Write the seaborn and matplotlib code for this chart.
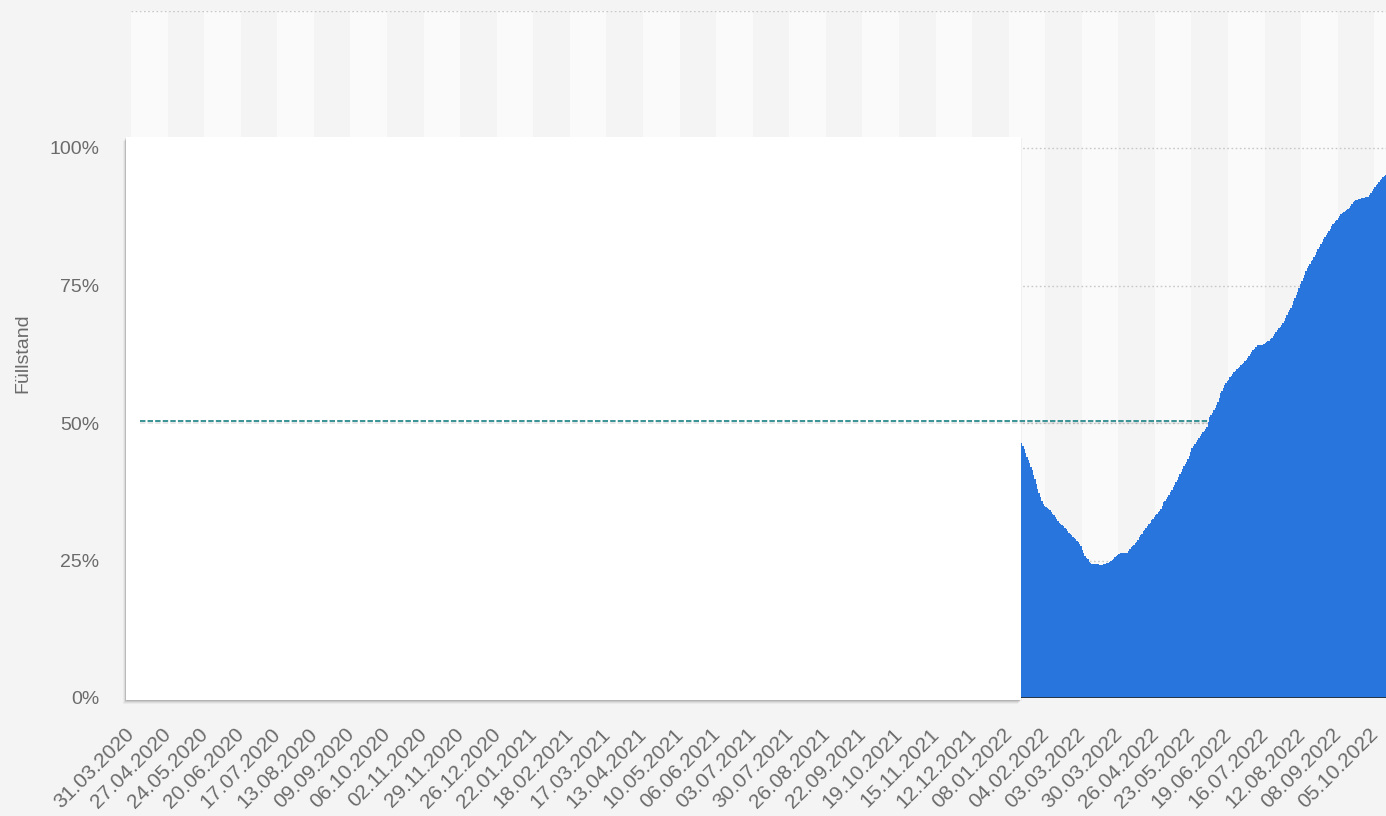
import numpy as np
import pandas as pd
import matplotlib
matplotlib.use("Agg")
import matplotlib.pyplot as plt
import matplotlib.patches as mpatches
import matplotlib.patheffects as pe
import seaborn as sns

# ---------------- data ----------------
start_date = "2020-03-31"
n_days = 927                      # daily categories shown on the axis
data_start_index = 657            # first visible daily value (17.01.2022)

fill_level = [
    46.3, 45.8, 45.2, 44.5, 43.9, 43.3, 42.8, 42.0, 41.4, 40.6,
    39.8, 38.9, 38.0, 37.2, 36.5, 35.8, 35.3, 35.0, 34.7, 34.5,
    34.3, 34.1, 33.8, 33.5, 33.2, 32.9, 32.5, 32.2, 31.9, 31.6,
    31.4, 31.2, 31.0, 30.8, 30.4, 30.0, 29.8, 29.6, 29.3, 29.1,
    28.9, 28.6, 28.3, 28.0, 27.6, 27.0, 26.3, 25.9, 25.5, 25.2,
    24.8, 24.5, 24.4, 24.4, 24.3, 24.3, 24.3, 24.3, 24.2, 24.2,
    24.2, 24.3, 24.4, 24.5, 24.6, 24.7, 24.9, 25.1, 25.3, 25.6,
    25.8, 26.0, 26.2, 26.3, 26.3, 26.3, 26.3, 26.3, 26.4, 26.8,
    27.1, 27.4, 27.6, 27.9, 28.1, 28.4, 28.8, 29.2, 29.6, 29.9,
    30.3, 30.6, 31.0, 31.3, 31.6, 31.9, 32.3, 32.6, 33.0, 33.3,
    33.5, 33.8, 34.0, 34.4, 35.0, 35.6, 35.9, 36.2, 36.6, 37.0,
    37.5, 37.9, 38.4, 38.8, 39.2, 39.7, 40.2, 40.7, 41.1, 41.6,
    42.1, 42.5, 43.0, 43.4, 44.0, 44.7, 45.4, 45.8, 46.2, 46.6,
    47.0, 47.3, 47.6, 48.0, 48.3, 48.6, 48.9, 49.3, 50.2, 51.1,
    51.5, 51.9, 52.3, 52.7, 53.3, 53.9, 54.6, 55.4, 55.9, 56.4,
    56.9, 57.3, 57.6, 57.9, 58.3, 58.6, 58.9, 59.2, 59.5, 59.8,
    60.0, 60.2, 60.5, 60.8, 61.0, 61.2, 61.5, 61.8, 62.2, 62.6,
    62.9, 63.2, 63.5, 63.9, 64.2, 64.2, 64.2, 64.1, 64.1, 64.3,
    64.5, 64.7, 64.9, 65.0, 65.2, 65.4, 65.8, 66.2, 66.5, 66.9,
    67.2, 67.5, 67.8, 68.2, 68.6, 69.1, 69.6, 70.1, 70.6, 71.0,
    71.5, 72.1, 72.7, 73.3, 73.9, 74.5, 75.2, 75.8, 76.4, 77.0,
    77.6, 78.1, 78.5, 79.0, 79.4, 79.7, 80.1, 80.6, 81.1, 81.6,
    82.0, 82.5, 83.0, 83.5, 83.8, 84.1, 84.5, 84.9, 85.3, 85.8,
    86.2, 86.4, 86.7, 86.9, 87.2, 87.6, 88.0, 88.2, 88.4, 88.5,
    88.7, 88.9, 89.1, 89.5, 89.8, 90.1, 90.3, 90.5, 90.6, 90.7,
    90.8, 90.9, 91.0, 91.0, 91.1, 91.1, 91.1, 91.4, 91.8, 92.2,
    92.6, 92.9, 93.2, 93.5, 93.8, 94.1, 94.4, 94.7, 94.9, 95.1,
]

reference_level = 50.4
reference_start_index = 6

tick_step = 27
x_tick_labels = [
    "31.03.2020", "27.04.2020", "24.05.2020", "20.06.2020", "17.07.2020",
    "13.08.2020", "09.09.2020", "06.10.2020", "02.11.2020", "29.11.2020",
    "26.12.2020", "22.01.2021", "18.02.2021", "17.03.2021", "13.04.2021",
    "10.05.2021", "06.06.2021", "03.07.2021", "30.07.2021", "26.08.2021",
    "22.09.2021", "19.10.2021", "15.11.2021", "12.12.2021", "08.01.2022",
    "04.02.2022", "03.03.2022", "30.03.2022", "26.04.2022", "23.05.2022",
    "19.06.2022", "16.07.2022", "12.08.2022", "08.09.2022", "05.10.2022",
]
y_ticks = [0, 25, 50, 75, 100, 125]
y_tick_labels = ["0%", "25%", "50%", "75%", "100%", ""]
y_title = "Füllstand"

# ---------------- style ----------------
BG = "#f4f4f4"
BAND_LIGHT = "#fafafa"
BLUE = "#2876dd"
TEAL = "#2a8a8c"
TXT = "#6b6b6b"

sns.set_style("white")
plt.rcParams["font.family"] = ["Liberation Sans", "DejaVu Sans"]

W, H = 1386, 816
fig = plt.figure(figsize=(W / 100, H / 100), dpi=100, facecolor=BG)
ax_left, ax_right, ax_bottom, ax_top = 131, 1386, 698, 10.5
ax = fig.add_axes([ax_left / W, (H - ax_bottom) / H,
                   (ax_right - ax_left) / W, (ax_bottom - ax_top) / H])
ax.set_facecolor(BG)

idx = np.arange(data_start_index, data_start_index + len(fill_level))
df = pd.DataFrame({"day": idx, "level": fill_level})

sns.barplot(data=df, x="day", y="level", native_scale=True, width=1.0,
            color=BLUE, saturation=1, linewidth=0,
            errorbar=None, ax=ax, zorder=2)
for p in ax.patches:
    p.set_antialiased(False)
    p.set_linewidth(0)

x_max = (ax_right - ax_left) / 1.3544 - 0.5
ax.set_xlim(-0.5, x_max)
ax.set_ylim(0, 125)

# alternating column bands
n_bands = int(np.ceil((x_max + 0.5) / tick_step)) + 1
for j in range(n_bands):
    if j % 2 == 0:
        ax.axvspan(j * tick_step - 0.5, (j + 1) * tick_step - 0.5,
                   color=BAND_LIGHT, lw=0, zorder=0.2)

# grid
for yv in y_ticks[1:]:
    ax.axhline(yv, color="#c8c8c8", lw=1.0, ls=(0, (1.2, 1.8)), zorder=0.6)

# axes & ticks
for s in ax.spines.values():
    s.set_visible(False)
ax.hlines(0, data_start_index - 0.5, x_max, color="#2a2a2a", lw=1.2, zorder=2.2)

ax.set_xticks(np.arange(len(x_tick_labels)) * tick_step)
ax.set_xticklabels(x_tick_labels, rotation=45, ha="right", va="center",
                   rotation_mode="anchor", fontsize=15, color=TXT)
ax.set_yticks(y_ticks)
ax.set_yticklabels(y_tick_labels, fontsize=14, color=TXT)
ax.tick_params(axis="x", length=0, pad=24)
ax.tick_params(axis="y", length=0, pad=23)
ax.set_xlabel("")
ax.set_ylabel("")
fig.text(23 / W, 1 - 353 / H, y_title, rotation=90, ha="center", va="center",
         fontsize=14, color=TXT)

# overlay card covering the earlier part of the chart
box_x0, box_x1, box_y0, box_y1 = 126, 1021, 137, 700
card = mpatches.Rectangle((box_x0 / W, 1 - box_y1 / H),
                          (box_x1 - box_x0) / W, (box_y1 - box_y0) / H,
                          transform=fig.transFigure, facecolor="white",
                          edgecolor="none", clip_on=False, zorder=1.5)
card.set_path_effects([
    pe.SimplePatchShadow(offset=(-2.2, -2.6), shadow_rgbFace="#000000", alpha=0.04),
    pe.SimplePatchShadow(offset=(-1.6, -1.9), shadow_rgbFace="#000000", alpha=0.06),
    pe.SimplePatchShadow(offset=(-1.0, -1.2), shadow_rgbFace="#000000", alpha=0.08),
    pe.SimplePatchShadow(offset=(-0.5, -0.6), shadow_rgbFace="#000000", alpha=0.08),
    pe.SimplePatchShadow(offset=(0.6, -0.6), shadow_rgbFace="#000000", alpha=0.04),
    pe.Normal(),
])
ax.add_patch(card)

# dashed reference line
ref = ax.hlines(reference_level, reference_start_index, x_max, color=TEAL,
                lw=1.3, linestyles=(0, (3, 1.2)), zorder=1.8)
ref.set_path_effects([pe.SimpleLineShadow(offset=(0, -1.5), alpha=0.10,
                                          shadow_color="#000000"),
                      pe.Normal()])

fig.savefig("out.png", dpi=100, facecolor=BG)
